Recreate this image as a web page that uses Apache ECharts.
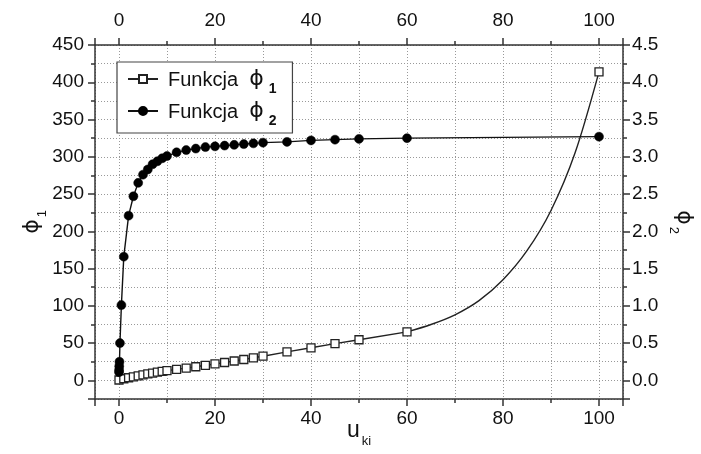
<!DOCTYPE html>
<html><head><meta charset="utf-8">
<script src="https://cdn.jsdelivr.net/npm/echarts@6/dist/echarts.min.js"></script>
<style>html,body{margin:0;padding:0;background:#fff}#c{width:701px;height:454px}</style>
</head><body><div id="c"></div>
<script>
// phi1 markers (left axis)
const phi1X = [0,1,2,3,4,5,6,7,8,9,10,12,14,16,18,20,22,24,26,28,30,35,40,45,50,60,100];
const phi1Y = [0.5,2.2,3.5,4.8,6.0,7.3,8.6,9.8,11.0,12.0,13.0,14.8,16.5,18.3,20.2,22.0,24.0,26.0,28.0,30.3,32.4,38.2,43.7,49.3,54.5,65.0,414];
// phi1 fitted curve read off between 60 and 100 (no markers)
const curveX = [65,70,75,80,85,90,95];
const curveY = [75,88,107,135,174,228,305];
// phi2 markers (right axis)
const phi2X = [0.01,0.02,0.05,0.1,0.2,0.5,1,2,3,4,5,6,7,8,9,10,12,14,16,18,20,22,24,26,28,30,35,40,45,50,60,100];
const phi2Y = [0.11,0.14,0.19,0.25,0.50,1.01,1.66,2.21,2.47,2.65,2.76,2.83,2.90,2.94,2.98,3.01,3.06,3.09,3.11,3.13,3.14,3.15,3.16,3.17,3.18,3.19,3.20,3.22,3.23,3.24,3.25,3.27];
const seriesNames = ['Funkcja \u03d51','Funkcja \u03d52'];
const seriesSubs = ['1','2'];

const FONT = 'Liberation Sans';
const AX = '#333';
const grid = {left:95, right:78, top:45, bottom:55, containLabel:false, outerBoundsMode:'none'};

// phi1 markers up to 60 (straight segments), then the read curve to 100
const phi1Lin = [];
phi1X.forEach((x,i)=>{ if (x<=60) phi1Lin.push([x,phi1Y[i]]); });
const phi1Curve = [];
phi1X.forEach((x,i)=>{ if (x===60) phi1Curve.push({value:[x,phi1Y[i]], symbol:'none'}); });
curveX.forEach((x,i)=>phi1Curve.push({value:[x,curveY[i]], symbol:'none'}));
phi1X.forEach((x,i)=>{ if (x>60) phi1Curve.push([x,phi1Y[i]]); });
const phi2Data = phi2X.map((x,i)=>[x,phi2Y[i]]);

const gridLine = {show:true, lineStyle:{color:'#999', type:[1,2], width:1}};
const xCommon = {
  type:'value', min:-5, max:105, splitNumber:5,
  axisLine:{show:true, onZero:false, lineStyle:{color:AX, width:1.5}},
  axisTick:{show:true, length:7, lineStyle:{color:AX, width:1.5}},
  minorTick:{show:true, splitNumber:2, length:4, lineStyle:{color:AX, width:1.5}},
  axisLabel:{show:true, fontSize:19, fontFamily:FONT, color:'#111', showMinLabel:false, showMaxLabel:false, margin:10}
};
const rich = {
  p:{fontSize:22, fontFamily:'DejaVu Sans', color:'#111', verticalAlign:'bottom'},
  s:{fontSize:13, fontFamily:FONT, color:'#111', verticalAlign:'bottom', padding:[0,0,-6,2]},
  sb:{fontSize:14, fontWeight:'bold', fontFamily:FONT, color:'#111', verticalAlign:'bottom', padding:[0,0,-6,5]},
  u:{fontSize:23, fontFamily:FONT, color:'#111', verticalAlign:'bottom'},
  t:{fontSize:20, fontFamily:FONT, color:'#111', verticalAlign:'bottom', padding:[0,0,0,5]}
};

const lineStyle1 = {color:'#222', width:1.4};
const item1 = {color:'#fff', borderColor:'#222', borderWidth:1.3};

const option = {
  animation:false,
  backgroundColor:'#fff',
  grid: grid,
  legend:{
    orient:'vertical', left:117, top:62,
    backgroundColor:'#fff', borderColor:'#444', borderWidth:1.2,
    padding:[6,16,5,10], itemGap:4, itemWidth:30, itemHeight:10,
    data: seriesNames,
    textStyle:{fontSize:20, fontFamily:FONT, color:'#111', rich:rich},
    formatter: function(name){ const i = seriesNames.indexOf(name); return '{t|Funkcja  }{p|\u03d5}{sb|' + seriesSubs[i] + '}'; }
  },
  xAxis:[
    Object.assign({}, xCommon, {position:'bottom', splitLine:gridLine, minorSplitLine:gridLine,
      name:'{u|u}{s|ki}', nameLocation:'middle', nameGap:20, nameMoveOverlap:false, nameTextStyle:{rich:rich}}),
    Object.assign({}, xCommon, {position:'top', splitLine:{show:false},
      axisLabel:Object.assign({}, xCommon.axisLabel, {margin:15})})
  ],
  yAxis:[
    {type:'value', position:'left', min:-25, max:450, splitNumber:10,
     axisLine:{show:true, onZero:false, lineStyle:{color:AX, width:1.5}},
     axisTick:{show:true, length:7, lineStyle:{color:AX, width:1.5}},
     minorTick:{show:true, splitNumber:2, length:4, lineStyle:{color:AX, width:1.5}},
     splitLine:gridLine, minorSplitLine:gridLine,
     axisLabel:{fontSize:19, fontFamily:FONT, color:'#111', showMinLabel:false, margin:11},
     name:'{p|\u03d5}{s|1}', nameLocation:'middle', nameRotate:90, nameGap:52, nameMoveOverlap:false, nameTextStyle:{rich:rich}},
    {type:'value', position:'right', min:-0.25, max:4.5, splitNumber:10,
     axisLine:{show:true, onZero:false, lineStyle:{color:AX, width:1.5}},
     axisTick:{show:true, length:7, lineStyle:{color:AX, width:1.5}},
     minorTick:{show:true, splitNumber:2, length:4, lineStyle:{color:AX, width:1.5}},
     splitLine:{show:false},
     axisLabel:{fontSize:19, fontFamily:FONT, color:'#111', showMinLabel:false, margin:9, formatter:v=>v.toFixed(1)},
     name:'{p|\u03d5}{s|2}', nameLocation:'middle', nameRotate:-90, nameGap:50, nameMoveOverlap:false, nameTextStyle:{rich:rich}}
  ],
  series:[
    {name:seriesNames[0], type:'line', xAxisIndex:0, yAxisIndex:0, data:phi1Lin,
     showAllSymbol:true, symbol:'rect', symbolSize:8,
     lineStyle:lineStyle1, itemStyle:item1, z:2},
    {name:seriesNames[0], type:'line', xAxisIndex:0, yAxisIndex:0, data:phi1Curve,
     smooth:0.3, showAllSymbol:true, symbol:'rect', symbolSize:8,
     lineStyle:lineStyle1, itemStyle:item1, z:2},
    {name:seriesNames[1], type:'line', xAxisIndex:0, yAxisIndex:1, data:phi2Data,
     showAllSymbol:true, symbol:'circle', symbolSize:9,
     lineStyle:{color:'#111', width:1.4}, itemStyle:{color:'#000', borderColor:'#000', borderWidth:0.5}, z:3}
  ]
};
const chart = echarts.init(document.getElementById('c'), null, {renderer:'canvas'});
chart.setOption(option);
</script></body></html>
